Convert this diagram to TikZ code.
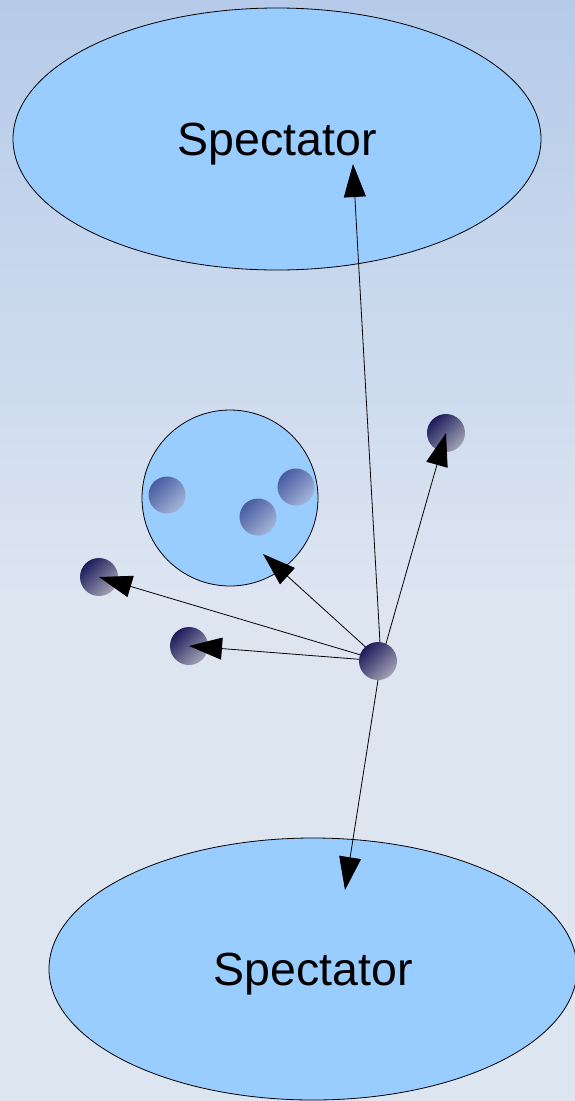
\documentclass[tikz,border=0pt]{standalone}
\usepackage{fontspec}
\setmainfont{Liberation Sans}
\usetikzlibrary{arrows.meta,shapes.geometric}
\definecolor{bgtop}{RGB}{181,203,233}
\definecolor{bgmid}{RGB}{221,229,241}
\definecolor{sky}{RGB}{153,204,255}
\definecolor{navy}{RGB}{28,28,92}
\definecolor{steel}{RGB}{162,162,180}
\definecolor{quarkdark}{RGB}{72,92,162}
\definecolor{quarklight}{RGB}{164,180,214}
\tikzset{
  spectator/.style={ellipse, draw=black, line width=0.8pt, fill=sky,
    minimum width=528pt, minimum height=262pt, inner sep=0pt,
    text depth=0pt, font=\fontsize{46.5}{56}\selectfont},
  nucleus/.style={circle, draw=black, line width=0.8pt, fill=sky,
    minimum size=176pt, inner sep=0pt},
  quark/.style={circle, minimum size=37pt, inner sep=0pt,
    top color=quarkdark, bottom color=quarklight, shading angle=45},
  particle/.style={circle, minimum size=38pt, inner sep=0pt,
    top color=navy, bottom color=steel, shading angle=45},
  conn/.style={draw=black, line width=0.8pt,
    -{Triangle[length=33pt,width=22pt]}}
}
\begin{document}
\begin{tikzpicture}[x=1pt,y=-1pt]
  % background
  \fill[top color=bgtop, bottom color=bgmid] (0,0) rectangle (575,600);
  \fill[bgmid] (0,599) rectangle (575,1101);
  \useasboundingbox (0,0) rectangle (575,1101);

  % spectators
  \node[spectator] (top) at (277,139) {Spectator};
  \node[spectator] (bottom) at (313,969) {Spectator};

  % nucleus with its constituents
  \node[nucleus] (nuc) at (230,498) {};
  \node[quark] (q1) at (167,495) {};
  \node[quark] (q2) at (258,517) {};
  \node[quark] (q3) at (296,487) {};

  % outgoing particles
  \node[particle] (p1) at (446,433) {};
  \node[particle] (p2) at (99,577) {};
  \node[particle] (p3) at (189,646) {};

  % arrow tips ending inside the larger shapes
  \coordinate (ttop) at (353,164);
  \coordinate (tnuc) at (263,554);
  \coordinate (tbot) at (345,890);
  \coordinate (orig) at (381,661);

  \draw[conn] (orig) -- (ttop);
  \draw[conn] (orig) -- (p1.center);
  \draw[conn] (orig) -- (tnuc);
  \draw[conn] (orig) -- (p2.center);
  \draw[conn] (orig) -- (p3.center);
  \draw[conn] (orig) -- (tbot);

  % the collision point
  \node[particle] (src) at (378,661) {};
\end{tikzpicture}
\end{document}
